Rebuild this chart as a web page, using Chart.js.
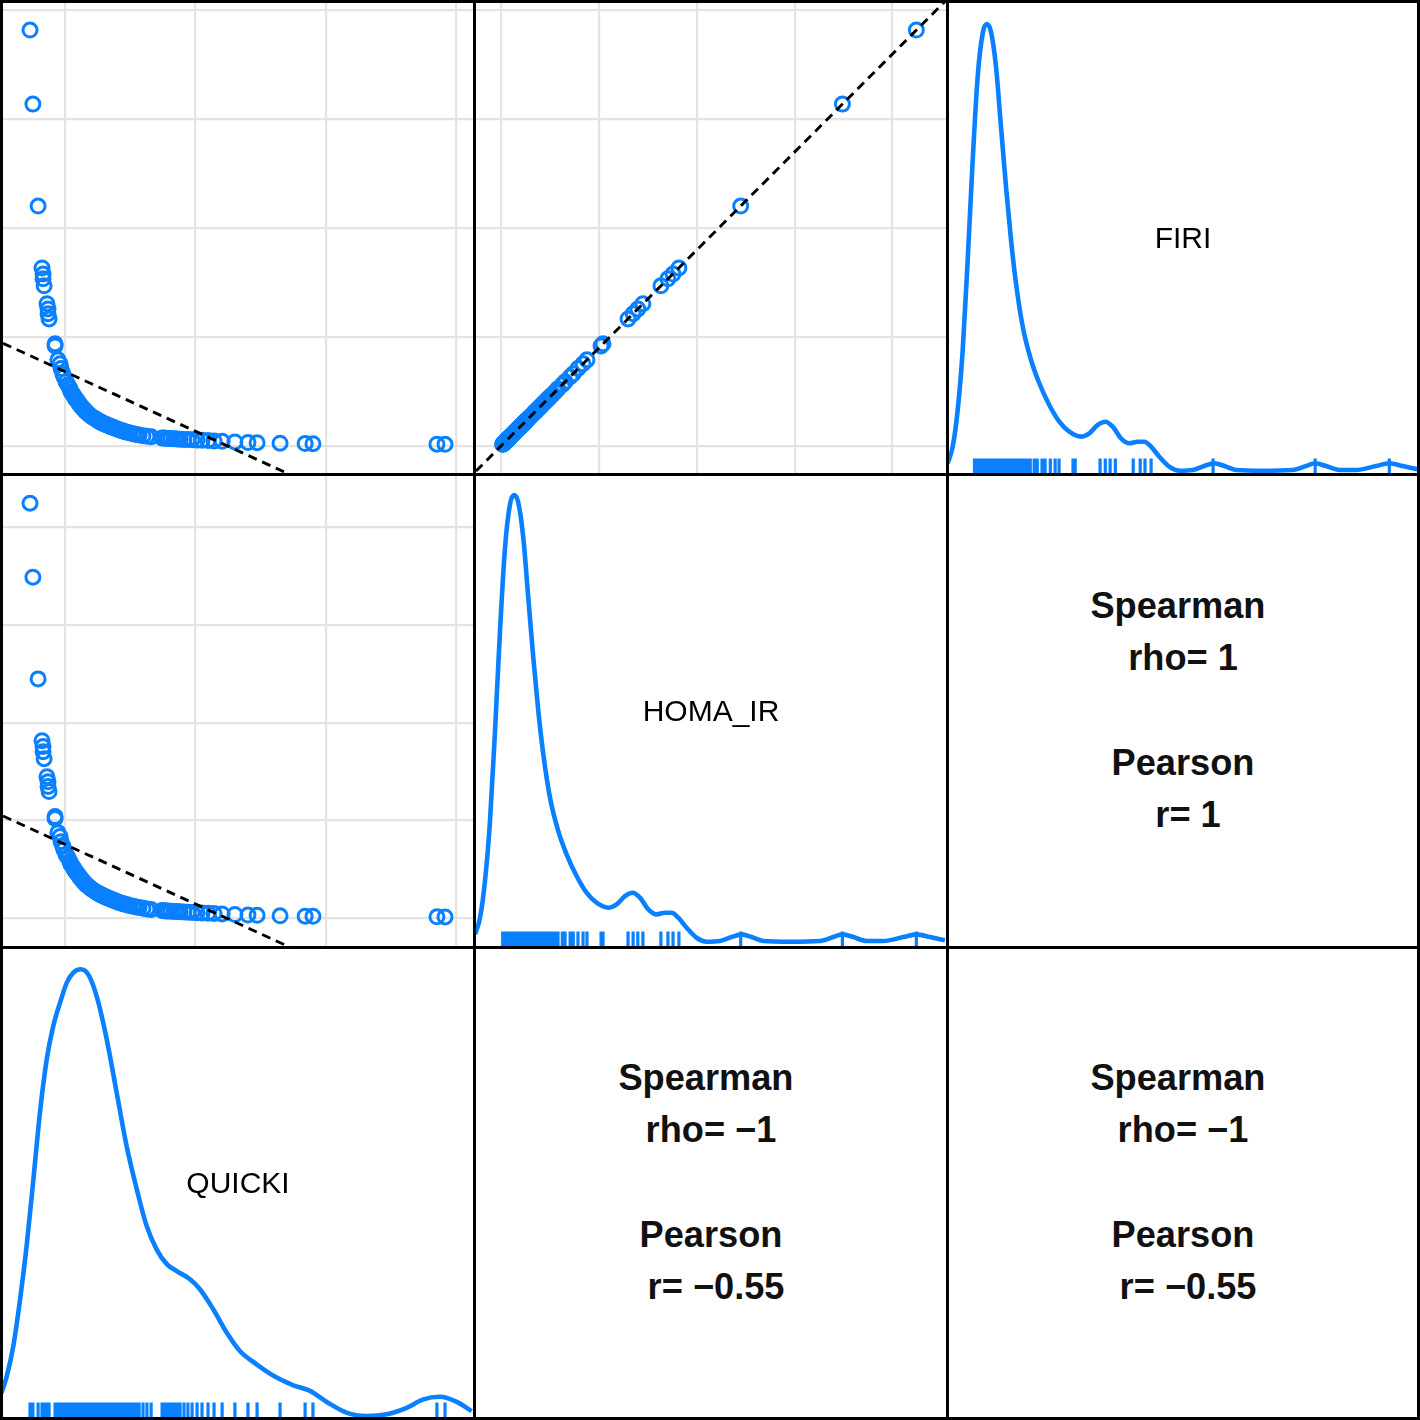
<!DOCTYPE html>
<html><head><meta charset="utf-8">
<script src="https://cdn.jsdelivr.net/npm/chart.js@4.4.1/dist/chart.umd.min.js"></script>
<style>
html,body{margin:0;padding:0;background:#fff;}
#wrap{position:relative;width:1420px;height:1420px;overflow:hidden;background:#fff;}
#wrap canvas{position:absolute;}
.bar{position:absolute;background:#000;}
.lbl{position:absolute;font-family:"Liberation Sans",Arial,sans-serif;font-size:30px;color:#000;transform:translate(-50%,-50%);white-space:nowrap;line-height:1;}
.cor{position:absolute;font-family:"Liberation Sans",Arial,sans-serif;font-weight:bold;font-size:36.2px;line-height:52.25px;color:#111;text-align:center;white-space:pre;transform:translate(-50%,-50%);}
</style></head><body><div id="wrap"></div>
<script>
// ---------- data ----------
const HOMA_IR = [10.61, 8.72, 6.12, 4.54, 4.39, 4.26, 4.08, 3.62, 3.49, 3.37, 3.24, 2.60, 2.55,
  1.38, 1.45, 1.56, 1.63, 1.76, 1.84, 1.96, 2.09, 2.19,
  1.309, 1.268, 1.224, 1.189, 1.153, 1.117, 1.082, 1.046, 1.015, 0.985, 0.954, 0.923, 0.893, 0.870, 0.847, 0.824, 0.778, 0.742, 0.707, 0.673, 0.643, 0.628,
  0.612, 0.599, 0.587, 0.574, 0.561, 0.548, 0.538, 0.528, 0.518, 0.497, 0.487, 0.477, 0.457, 0.446, 0.426, 0.406, 0.388, 0.372, 0.357, 0.344, 0.324, 0.306, 0.288, 0.276, 0.255, 0.240, 0.227,
  0.199, 0.194, 0.189, 0.186, 0.181, 0.176, 0.171, 0.166, 0.161, 0.156, 0.151, 0.143, 0.138, 0.130, 0.122,
  0.112, 0.097, 0.084, 0.077, 0.064, 0.054, 0.051, 0.038, 0.036];
const FIRI = [9.54, 7.84, 5.50, 4.08, 3.94, 3.83, 3.67, 3.26, 3.14, 3.03, 2.91, 2.34, 2.29,
  1.24, 1.31, 1.40, 1.47, 1.58, 1.65, 1.77, 1.88, 1.97,
  1.177, 1.140, 1.101, 1.069, 1.037, 1.005, 0.972, 0.940, 0.913, 0.885, 0.858, 0.830, 0.803, 0.782, 0.761, 0.741, 0.700, 0.667, 0.635, 0.606, 0.578, 0.564,
  0.550, 0.539, 0.528, 0.516, 0.505, 0.493, 0.484, 0.475, 0.466, 0.447, 0.438, 0.429, 0.411, 0.401, 0.383, 0.365, 0.349, 0.335, 0.321, 0.310, 0.291, 0.275, 0.259, 0.248, 0.229, 0.216, 0.204,
  0.179, 0.174, 0.170, 0.167, 0.163, 0.158, 0.154, 0.149, 0.144, 0.140, 0.135, 0.128, 0.124, 0.117, 0.110,
  0.101, 0.087, 0.076, 0.069, 0.057, 0.048, 0.046, 0.034, 0.032];
const QUICKI = [0.2866, 0.2877, 0.2897, 0.2912, 0.2916, 0.2916, 0.2920, 0.2931, 0.2935, 0.2935, 0.2939, 0.2962, 0.2962,
  0.3023, 0.3019, 0.3011, 0.3004, 0.2996, 0.2992, 0.2985, 0.2981, 0.2973,
  0.3031, 0.3034, 0.3038, 0.3042, 0.3046, 0.3050, 0.3054, 0.3057, 0.3061, 0.3065, 0.3069, 0.3073, 0.3077, 0.3080, 0.3084, 0.3088, 0.3096, 0.3103, 0.3111, 0.3119, 0.3126, 0.3130,
  0.3134, 0.3138, 0.3142, 0.3146, 0.3149, 0.3153, 0.3157, 0.3161, 0.3165, 0.3172, 0.3176, 0.3180, 0.3188, 0.3192, 0.3199, 0.3207, 0.3215, 0.3222, 0.3230, 0.3238, 0.3249, 0.3261, 0.3272, 0.3284, 0.3299, 0.3314, 0.3330,
  0.3372, 0.3379, 0.3387, 0.3395, 0.3406, 0.3418, 0.3429, 0.3441, 0.3456, 0.3471, 0.3487, 0.3506, 0.3525, 0.3548, 0.3571,
  0.3602, 0.3651, 0.3701, 0.3736, 0.3824, 0.3920, 0.3950, 0.4425, 0.4456];

// kernel density curves
const firiDensX = [-0.582,-0.468,-0.353,-0.238,-0.124,-0.009,0.105,0.220,0.312,0.410,0.525,0.639,0.754,0.869,0.983,1.137,1.327,1.517,1.746,1.976,2.205,2.473,2.663,2.856,3.030,3.200,3.390,3.580,3.773,3.924,4.078,4.268,4.497,4.726,5.033,5.299,5.528,5.758,6.026,6.638,7.325,7.630,7.843,8.088,8.393,8.776,9.235,9.539,9.846,10.19];
const firiDensY = [0.0106,0.0343,0.0867,0.1724,0.3010,0.4439,0.5629,0.6249,0.6381,0.6271,0.5771,0.4914,0.4057,0.3296,0.2677,0.2057,0.1581,0.1249,0.0939,0.0700,0.0557,0.0486,0.0534,0.0653,0.0700,0.0629,0.0463,0.0391,0.0414,0.0414,0.0343,0.0200,0.0057,0.0000,0.0010,0.0067,0.0106,0.0067,0.0010,0.0000,0.0010,0.0067,0.0106,0.0067,0.0010,0.0010,0.0067,0.0106,0.0067,0.0020];
const homaDensX = [-0.672,-0.544,-0.417,-0.289,-0.161,-0.033,0.095,0.222,0.325,0.435,0.562,0.690,0.818,0.946,1.074,1.245,1.457,1.669,1.925,2.180,2.436,2.735,2.947,3.162,3.356,3.546,3.758,3.970,4.185,4.353,4.525,4.737,4.992,5.248,5.591,5.887,6.143,6.398,6.697,7.380,8.147,8.487,8.724,8.998,9.338,9.765,10.276,10.616,10.959,11.342];
const homaDensY = [0.0095,0.0308,0.0780,0.1551,0.2708,0.3994,0.5064,0.5622,0.5741,0.5642,0.5192,0.4421,0.3650,0.2965,0.2408,0.1851,0.1422,0.1124,0.0845,0.0630,0.0501,0.0437,0.0480,0.0587,0.0630,0.0566,0.0417,0.0352,0.0372,0.0372,0.0309,0.0180,0.0051,0.0000,0.0009,0.0060,0.0095,0.0060,0.0009,0.0000,0.0009,0.0060,0.0095,0.0060,0.0009,0.0009,0.0060,0.0095,0.0060,0.0018];
const quickiDensX = [0.2757,0.2777,0.2802,0.2828,0.2853,0.2879,0.2904,0.2930,0.2955,0.2981,0.3007,0.3032,0.3060,0.3089,0.3121,0.3160,0.3198,0.3236,0.3275,0.3313,0.3351,0.3390,0.3428,0.3479,0.3517,0.3568,0.3620,0.3670,0.3734,0.3811,0.3875,0.3939,0.4003,0.4079,0.4156,0.4233,0.4309,0.4373,0.4437,0.4501,0.4558];
const quickiDensY = [0.93,1.58,2.75,4.58,6.66,9.27,11.87,13.95,15.25,16.16,16.95,17.34,17.47,17.27,16.43,14.73,12.65,10.57,8.88,7.44,6.53,5.95,5.68,5.36,4.97,4.19,3.27,2.56,2.04,1.52,1.22,1.00,0.57,0.15,0.02,0.09,0.34,0.67,0.77,0.57,0.21];

// gridline (break) values
const gridQUICKI = [0.30, 0.35, 0.40, 0.45];
const gridFIRI = [0, 2.5, 5, 7.5, 10];
const gridHOMA = [0, 2.5, 5, 7.5, 10];

// linear fits [intercept, slope]
const fitFiriOnQuicki = [9.92, -27.4];
const fitHomaOnQuicki = [11.04, -30.5];
const fitFiriOnHoma = [0.0, 0.899];

const varLabels = ['FIRI', 'HOMA_IR', 'QUICKI'];
const corLines12 = ['Spearman ', 'rho= 1', ' ', 'Pearson', ' r= 1'];
const corLines21 = ['Spearman ', 'rho= \u22121', ' ', 'Pearson', ' r= \u22120.55'];
const corLines22 = ['Spearman ', 'rho= \u22121', ' ', 'Pearson', ' r= \u22120.55'];

// ---------- layout / style ----------
const BLUE = 'rgb(10,128,255)';
const COLS = [{l:3,w:470},{l:476,w:470},{l:949,w:468}];
const ROWS = [{t:3,h:470},{t:476,h:470},{t:949,h:468}];
const rangeQ = [0.27625, 0.45632];
const rangeFrow = [-0.6266, 10.161];
const rangeHcol = [-0.6467, 11.368];
const rangeHrow = [-0.708, 11.306];
const rangeFcol = [-0.5524, 10.174];
const rangeDensF = [-0.0033, 0.6681];
const rangeDensH = [-0.0055, 0.5986];
const rangeDensQ = [-0.0195, 18.262];

const wrap = document.getElementById('wrap');
Chart.defaults.font.family = '"Liberation Sans", Arial, sans-serif';

function makeCanvas(col,row){
  const c = document.createElement('canvas');
  c.width = COLS[col].w; c.height = ROWS[row].h;
  c.style.left = COLS[col].l+'px'; c.style.top = ROWS[row].t+'px';
  c.style.width = COLS[col].w+'px'; c.style.height = ROWS[row].h+'px';
  wrap.appendChild(c);
  return c;
}

function axis(range, grid){
  if (!grid) return {type:'linear', display:false, min:range[0], max:range[1]};
  return {type:'linear', display:true, min:range[0], max:range[1],
    grid:{display:true, color:'#e3e3e3', lineWidth:2.2, drawTicks:false, drawOnChartArea:true},
    border:{display:false}, ticks:{display:false},
    afterBuildTicks: s => { s.ticks = grid.map(v => ({value:v})); }};
}

const rugPlugin = {
  id:'rug',
  afterDatasetsDraw(chart, args, opts){
    if (!opts || !opts.values) return;
    const {ctx, chartArea} = chart; const x = chart.scales.x;
    ctx.save(); ctx.strokeStyle = BLUE; ctx.lineWidth = 3.2; ctx.beginPath();
    for (const v of opts.values){ const px = x.getPixelForValue(v); ctx.moveTo(px, chartArea.bottom); ctx.lineTo(px, chartArea.bottom - 14.5); }
    ctx.stroke(); ctx.restore();
  }
};

const baseOpts = (xs, ys) => ({responsive:false, animation:false, events:[], devicePixelRatio:1,
  layout:{padding:0, autoPadding:false},
  plugins:{legend:{display:false}, tooltip:{enabled:false}},
  scales:{x:xs, y:ys}});

function scatterPanel(col,row,xv,yv,xr,yr,xg,yg,fit){
  const c = makeCanvas(col,row);
  const pts = xv.map((x,i) => ({x, y:yv[i]}));
  const line = [{x:xr[0], y:fit[0]+fit[1]*xr[0]}, {x:xr[1], y:fit[0]+fit[1]*xr[1]}];
  new Chart(c, {type:'scatter', data:{datasets:[
    {data:line, showLine:true, borderColor:'#000', borderWidth:2.9, borderDash:[9,6], pointRadius:0, fill:false, order:0},
    {data:pts, pointStyle:'circle', pointRadius:7, pointBorderWidth:3, borderWidth:3, pointBorderColor:BLUE, borderColor:BLUE, pointBackgroundColor:'rgba(0,0,0,0)', backgroundColor:'rgba(0,0,0,0)', order:1}
  ]}, options: baseOpts(axis(xr,xg), axis(yr,yg))});
}

function densityPanel(col,row,dx,dy,xr,yr,rug){
  const c = makeCanvas(col,row);
  const o = baseOpts(axis(xr,null), axis(yr,null));
  o.plugins.rug = {values: rug};
  new Chart(c, {type:'scatter', data:{datasets:[
    {data:dx.map((x,i)=>({x, y:dy[i]})), showLine:true, borderColor:BLUE, borderWidth:4.6, pointRadius:0, cubicInterpolationMode:'monotone', fill:false}
  ]}, options:o, plugins:[rugPlugin]});
}

function addLabel(col,row,text){
  const d = document.createElement('div'); d.className='lbl'; d.textContent=text;
  d.style.left = (COLS[col].l + COLS[col].w/2)+'px';
  d.style.top = (ROWS[row].t + ROWS[row].h/2 - 0.5)+'px';
  wrap.appendChild(d);
}
function addCor(col,row,lines){
  const d = document.createElement('div'); d.className='cor'; d.textContent = lines.join('\n');
  d.style.left = (COLS[col].l + COLS[col].w/2)+'px';
  d.style.top = (ROWS[row].t + ROWS[row].h/2)+'px';
  wrap.appendChild(d);
}

// scatter panels
scatterPanel(0,0,QUICKI,FIRI,rangeQ,rangeFrow,gridQUICKI,gridFIRI,fitFiriOnQuicki);
scatterPanel(1,0,HOMA_IR,FIRI,rangeHcol,rangeFrow,gridHOMA,gridFIRI,fitFiriOnHoma);
scatterPanel(0,1,QUICKI,HOMA_IR,rangeQ,rangeHrow,gridQUICKI,gridHOMA,fitHomaOnQuicki);
// diagonal density panels
densityPanel(2,0,firiDensX,firiDensY,rangeFcol,rangeDensF,FIRI);
densityPanel(1,1,homaDensX,homaDensY,rangeHcol,rangeDensH,HOMA_IR);
densityPanel(0,2,quickiDensX,quickiDensY,rangeQ,rangeDensQ,QUICKI);
addLabel(2,0,varLabels[0]);
addLabel(1,1,varLabels[1]);
addLabel(0,2,varLabels[2]);
// correlation panels
addCor(2,1,corLines12);
addCor(1,2,corLines21);
addCor(2,2,corLines22);

// panel borders
[[0,3],[473,3],[946,3],[1417,3]].forEach(([p,w]) => {
  const v = document.createElement('div'); v.className='bar';
  v.style.left=p+'px'; v.style.top='0px'; v.style.width=w+'px'; v.style.height='1420px'; wrap.appendChild(v);
  const h = document.createElement('div'); h.className='bar';
  h.style.top=p+'px'; h.style.left='0px'; h.style.height=w+'px'; h.style.width='1420px'; wrap.appendChild(h);
});
</script>
</body></html>
